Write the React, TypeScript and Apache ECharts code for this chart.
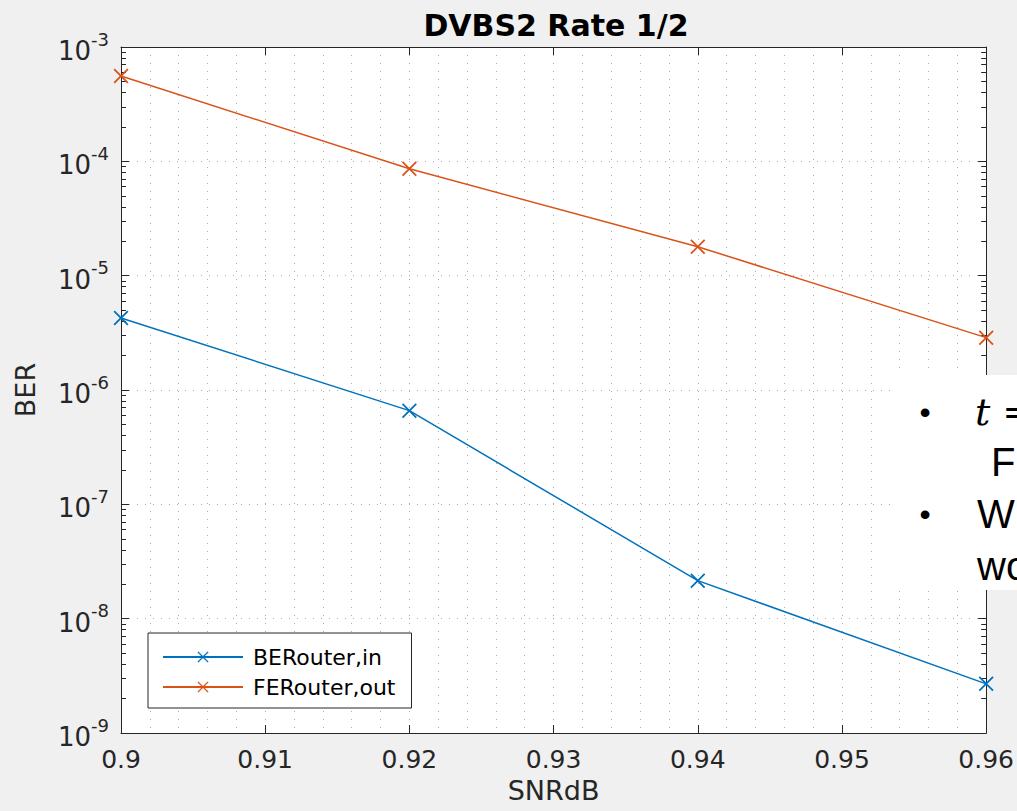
import React, { useEffect, useRef } from "react";
import * as echarts from "echarts";

const snr = [0.9, 0.92, 0.94, 0.96];
const berIn = [4.27e-6, 6.6e-7, 2.15e-8, 2.69e-9];
const ferOut = [5.58e-4, 8.6e-5, 1.79e-5, 2.87e-6];
const seriesNames = ["BERouter,in", "FERouter,out"];
const xMin = 0.9;
const xMax = 0.96;
const xStep = 0.01;
const yMin = 1e-9;
const yMax = 1e-3;
const minorMultipliers = [2, 3, 4, 5, 6, 7, 8, 9];
const decades = [-9, -8, -7, -6, -5, -4];
const titleText = "DVBS2 Rate 1/2";
const xName = "SNRdB";
const yName = "BER";
const slideLines = ["t =", "F", "W", "wo"];

const BLUE = "#0072BD";
const ORANGE = "#D95319";
const AX = "#262626";
const GRIDC = "#adadad";
const FONT = "DejaVu Sans";
const XMARK = "path://M0,1 L1,0 L6,5 L11,0 L12,1 L7,6 L12,11 L11,12 L6,7 L1,12 L0,11 L5,6 Z";

const minorVals: number[] = [];
decades.forEach((d) => minorMultipliers.forEach((m) => minorVals.push(m * Math.pow(10, d))));

export default function App() {
  const ref = useRef<HTMLDivElement>(null);
  useEffect(() => {
    const chart = echarts.init(ref.current!, undefined, { renderer: "svg" });
    const tk = ((xMax - xMin) / 869) * 5;
    const tickSegs: any[] = [];
    minorVals.forEach((v) => {
      tickSegs.push([{ coord: [xMin, v] }, { coord: [xMin + tk, v] }]);
      tickSegs.push([{ coord: [xMax - tk, v] }, { coord: [xMax, v] }]);
    });
    const yLabel = (v: number) => {
      const e = Math.round(Math.log10(v));
      return `{b|10}{s|${e}}`;
    };
    chart.setOption({
      animation: false,
      backgroundColor: "#f0f0f0",
      textStyle: { fontFamily: FONT },
      title: {
        text: titleText,
        left: 551,
        top: 5,
        textAlign: "center",
        textStyle: { fontFamily: FONT, fontWeight: "bold", fontSize: 30, color: "#000" },
      },
      grid: {
        left: 121,
        right: 27,
        top: 47,
        bottom: 78,
        show: true,
        backgroundColor: "#ffffff",
        borderWidth: 0,
      },
      legend: {
        orient: "vertical",
        left: 148,
        top: 633,
        itemWidth: 80,
        itemHeight: 14,
        itemGap: 6,
        padding: [12, 16, 9, 14],
        backgroundColor: "#ffffff",
        borderColor: AX,
        borderWidth: 1,
        borderRadius: 0,
        textStyle: { fontFamily: FONT, fontSize: 22, color: "#000", lineHeight: 24, padding: [0, 0, 0, 5] },
        data: seriesNames,
      },
      xAxis: [
        {
          type: "value",
          min: xMin,
          max: xMax,
          interval: xStep,
          position: "bottom",
          name: xName,
          nameLocation: "middle",
          nameGap: 39,
          nameTextStyle: { fontFamily: FONT, fontSize: 27, color: AX },
          axisLine: { show: true, lineStyle: { color: AX, width: 1 } },
          axisTick: { show: true, inside: true, length: 8, lineStyle: { color: AX } },
          axisLabel: {
            show: true,
            margin: 14,
            fontFamily: FONT,
            fontSize: 25,
            color: AX,
            formatter: (v: number) => String(+v.toFixed(2)),
          },
          splitLine: { show: true, lineStyle: { color: GRIDC, type: [1, 7], width: 1 } },
          minorTick: { show: false, splitNumber: 5 },
          minorSplitLine: { show: true, lineStyle: { color: GRIDC, type: [1, 7], width: 1 } },
        },
        {
          type: "value",
          min: xMin,
          max: xMax,
          interval: xStep,
          position: "top",
          axisLine: { show: true, lineStyle: { color: AX, width: 1 } },
          axisTick: { show: true, inside: true, length: 8, lineStyle: { color: AX } },
          axisLabel: { show: false },
          splitLine: { show: false },
        },
      ],
      yAxis: [
        {
          type: "log",
          logBase: 10,
          min: yMin,
          max: yMax,
          splitNumber: 6,
          position: "left",
          name: yName,
          nameLocation: "middle",
          nameGap: 82,
          nameRotate: 90,
          nameTextStyle: { fontFamily: FONT, fontSize: 27, color: AX },
          axisLine: { show: true, lineStyle: { color: AX, width: 1 } },
          axisTick: { show: true, inside: true, length: 8, lineStyle: { color: AX } },
          axisLabel: {
            show: true,
            margin: 12,
            formatter: yLabel,
            rich: {
              b: { fontFamily: FONT, fontSize: 26, color: AX, lineHeight: 34, verticalAlign: "bottom" },
              s: { fontFamily: FONT, fontSize: 18, color: AX, lineHeight: 18, verticalAlign: "top" },
            },
          },
          splitLine: { show: true, lineStyle: { color: GRIDC, type: [1, 7], width: 1 } },
        },
        {
          type: "log",
          logBase: 10,
          min: yMin,
          max: yMax,
          splitNumber: 6,
          position: "right",
          axisLine: { show: true, lineStyle: { color: AX, width: 1 } },
          axisTick: { show: true, inside: true, length: 8, lineStyle: { color: AX } },
          axisLabel: { show: false },
          splitLine: { show: false },
        },
      ],
      series: [
        {
          type: "line",
          name: seriesNames[0],
          xAxisIndex: 0,
          yAxisIndex: 0,
          data: snr.map((x, i) => [x, berIn[i]]),
          symbol: XMARK,
          symbolSize: 15,
          clip: false,
          lineStyle: { color: BLUE, width: 1.5 },
          itemStyle: { color: BLUE },
          z: 5,
          markLine: {
            silent: true,
            symbol: ["none", "none"],
            label: { show: false },
            lineStyle: { color: GRIDC, type: [1, 7], width: 1 },
            emphasis: { disabled: true },
            data: minorVals.map((v) => ({ yAxis: v })),
            z: 1,
          },
        },
        {
          type: "line",
          name: seriesNames[1],
          xAxisIndex: 0,
          yAxisIndex: 0,
          data: snr.map((x, i) => [x, ferOut[i]]),
          symbol: XMARK,
          symbolSize: 15,
          clip: false,
          lineStyle: { color: ORANGE, width: 1.5 },
          itemStyle: { color: ORANGE },
          z: 5,
          markLine: {
            silent: true,
            symbol: ["none", "none"],
            label: { show: false },
            lineStyle: { color: AX, type: "solid", width: 1 },
            emphasis: { disabled: true },
            data: tickSegs,
          },
        },
      ],
      graphic: [
        {
          type: "rect",
          z: 100,
          shape: { x: 896, y: 375, width: 121, height: 215 },
          style: { fill: "#ffffff" },
        },
        { type: "text", z: 101, x: 925, y: 412, style: { text: "•", font: "32px Liberation Sans", fill: "#000", align: "center", verticalAlign: "middle" } },
        { type: "text", z: 101, x: 975, y: 412, style: { text: slideLines[0], font: "italic 38px DejaVu Serif", fill: "#000", align: "left", verticalAlign: "middle" } },
        { type: "text", z: 101, x: 991, y: 462, style: { text: slideLines[1], font: "40px Liberation Sans", fill: "#000", align: "left", verticalAlign: "middle" } },
        { type: "text", z: 101, x: 925, y: 514, style: { text: "•", font: "32px Liberation Sans", fill: "#000", align: "center", verticalAlign: "middle" } },
        { type: "text", z: 101, x: 977, y: 514, style: { text: slideLines[2], font: "40px Liberation Sans", fill: "#000", align: "left", verticalAlign: "middle" } },
        { type: "text", z: 101, x: 977, y: 566, style: { text: slideLines[3], font: "40px Liberation Sans", fill: "#000", align: "left", verticalAlign: "middle" } },
      ],
    });
    return () => chart.dispose();
  }, []);
  return (
    <div
      ref={ref}
      style={{ position: "fixed", left: 0, top: 0, width: 1017, height: 811 }}
    />
  );
}
